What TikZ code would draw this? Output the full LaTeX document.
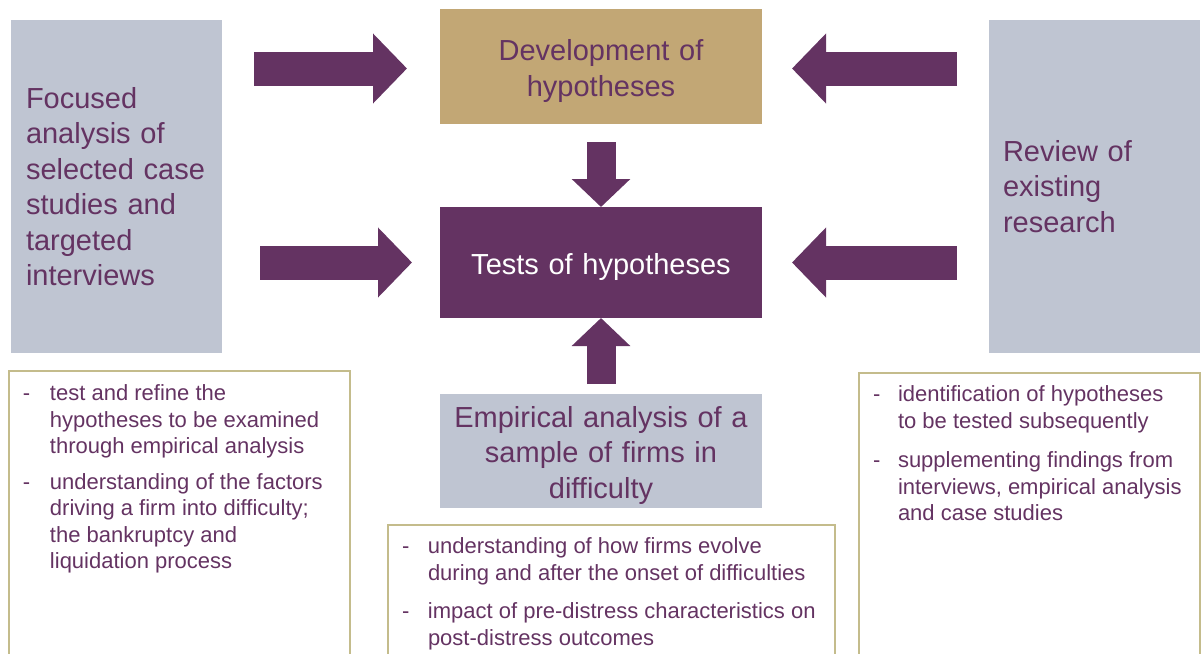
\documentclass[tikz,border=0pt]{standalone}
\usepackage{fontspec}
\setmainfont{Liberation Sans}
\usetikzlibrary{arrows.meta}
\definecolor{plum}{RGB}{100,51,98}
\definecolor{slate}{RGB}{191,197,210}
\definecolor{sand}{RGB}{194,167,117}
\definecolor{olive}{RGB}{196,188,140}
\newcommand{\bigtext}{\fontsize{29}{35.5}\selectfont}
\newcommand{\smalltext}{\fontsize{22}{26.5}\selectfont}
\newcommand{\toppad}{\rule{0pt}{30pt}}
\tikzset{
    box/.style={rectangle, inner sep=0pt, outer sep=0pt, font=\bigtext, text=plum, align=center},
    side/.style={box, fill=slate, minimum height=333pt, align=left},
    centre/.style={box, inner xsep=11pt, text width=300pt},
    notes/.style={draw=olive, line width=1.3pt, anchor=north west, outer sep=0pt,
        inner xsep=14pt, inner ysep=11pt, text depth=260pt, font=\smalltext, text=plum},
    flowh/.style={plum, line width=34pt, -{Triangle[length=34pt,width=68pt]}},
    flowv/.style={plum, line width=29pt, -{Triangle[length=28pt,width=57pt]}},
}

\begin{document}
\begin{tikzpicture}[x=1pt, y=-1pt]
    \clip (0,0) rectangle (1204,653);

    % the five boxes
    \node[side, inner xsep=15pt, text width=181pt] (lbox) at (116.5,186.5)
        {Focused\\analysis of\\selected case\\studies and\\targeted\\interviews};
    \node[side, inner xsep=14pt, text width=183pt] (rbox) at (1094.5,186.5)
        {Review of\\existing\\research};
    \node[centre, fill=sand, minimum height=115pt] (dev) at (601,66.5)
        {\toppad Development of\\hypotheses};
    \node[centre, fill=plum, text=white, minimum height=111pt] (test) at (601,262.5)
        {\toppad Tests of hypotheses};
    \node[centre, fill=slate, minimum height=114pt] (emp) at (601,451)
        {\toppad Empirical analysis of a\\sample of firms in\\difficulty};

    % notes under the boxes
    \node[notes] (lnotes) at (9,371) {\begin{tabular}[t]{@{}p{27pt}@{}p{286pt}@{}}
        - & test and refine the\\
          & hypotheses to be examined\\
          & through empirical analysis\\[9pt]
        - & understanding of the factors\\
          & driving a firm into difficulty;\\
          & the bankruptcy and\\
          & liquidation process
    \end{tabular}};
    \node[notes, inner ysep=10pt] (enotes) at (388,525) {\begin{tabular}[t]{@{}p{26pt}@{}p{393pt}@{}}
        - & understanding of how firms evolve\\
          & during and after the onset of difficulties\\[12pt]
        - & impact of pre-distress characteristics on\\
          & post-distress outcomes
    \end{tabular}};
    \node[notes, inner ysep=10pt] (rnotes) at (859,373) {\begin{tabular}[t]{@{}p{25pt}@{}p{288pt}@{}}
        - & identification of hypotheses\\
          & to be tested subsequently\\[13pt]
        - & supplementing findings from\\
          & interviews, empirical analysis\\
          & and case studies
    \end{tabular}};

    % arrows
    \draw[flowh, shorten <=32pt, shorten >=33pt] ([yshift=-2pt]lbox.east |- dev.west) -- ([yshift=-2pt]dev.west);
    \draw[flowh, shorten <=38pt, shorten >=28pt] (lbox.east |- test.west) -- (test.west);
    \draw[flowh, shorten <=32pt, shorten >=30pt] ([yshift=-2pt]rbox.west |- dev.east) -- ([yshift=-2pt]dev.east);
    \draw[flowh, shorten <=32pt, shorten >=30pt] (rbox.west |- test.east) -- (test.east);
    \draw[flowv, shorten <=18pt] (dev.south) -- (test.north);
    \draw[flowv, shorten <=10pt] (emp.north) -- (test.south);
\end{tikzpicture}
\end{document}
